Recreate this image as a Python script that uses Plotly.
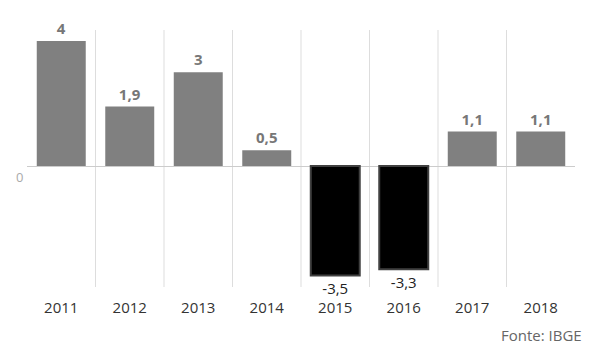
import plotly.graph_objects as go

years = ["2011", "2012", "2013", "2014", "2015", "2016", "2017", "2018"]
values = [4, 1.9, 3, 0.5, -3.5, -3.3, 1.1, 1.1]
labels = ["4", "1,9", "3", "0,5", "-3,5", "-3,3", "1,1", "1,1"]

pos_color = "#808080"
neg_color = "#000000"

colors = [pos_color if v >= 0 else neg_color for v in values]
line_colors = [pos_color if v >= 0 else "#404040" for v in values]
line_widths = [0 if v >= 0 else 2 for v in values]
text_colors = ["#777777" if v >= 0 else "#222222" for v in values]
text_weights = ["bold" if v >= 0 else "normal" for v in values]

fig = go.Figure()
fig.add_trace(go.Bar(
    x=years, y=values,
    marker=dict(color=colors, line=dict(color=line_colors, width=line_widths)),
    text=labels, textposition="outside",
    textfont=dict(family="Open Sans", size=15, color=text_colors, weight=text_weights),
    cliponaxis=False, constraintext="none",
    hoverinfo="skip",
))

shapes = []
for i in range(len(years) - 1):
    shapes.append(dict(type="line", xref="x", yref="paper",
                       x0=i + 0.5, x1=i + 0.5, y0=0, y1=1,
                       line=dict(color="#dddddd", width=1), layer="below"))

# page body has an 8px default margin; figure is sized to fit the 598x360 window
fig.update_layout(
    width=590, height=352,
    margin=dict(l=19, r=23, t=22, b=73),
    paper_bgcolor="white", plot_bgcolor="white",
    bargap=0.285,
    showlegend=False,
    shapes=shapes,
    font=dict(family="Open Sans", color="#333333"),
    xaxis=dict(showgrid=False, showline=False, ticks="",
               tickfont=dict(family="Open Sans", size=15, color="#333333"),
               ticklabelstandoff=10),
    yaxis=dict(range=[-3.87, 4.35], showgrid=False, showticklabels=False,
               zeroline=True, zerolinecolor="#cccccc", zerolinewidth=1),
    annotations=[
        dict(text="0", xref="paper", yref="y", x=-0.013, y=0,
             xanchor="center", yanchor="middle", yshift=-11, showarrow=False,
             font=dict(family="Open Sans", size=13, color="#aaaaaa")),
        dict(text="Fonte: IBGE", xref="paper", yref="paper", x=1.016, y=-0.187,
             xanchor="right", yanchor="middle", showarrow=False,
             font=dict(family="Open Sans", size=15, color="#666666")),
    ],
)

fig.write_html("out.html")
